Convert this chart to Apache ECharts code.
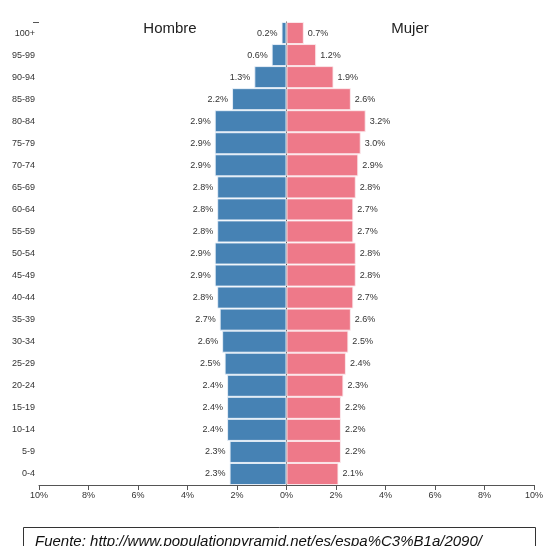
<!DOCTYPE html>
<html>
<head>
<meta charset="utf-8">
<script src="https://cdn.jsdelivr.net/npm/echarts@6/dist/echarts.min.js"></script>
<style>
  html, body { margin: 0; padding: 0; background: #fff; }
  #chart { width: 546px; height: 546px; }
</style>
</head>
<body>
<div id="chart"></div>
<script>
  // age groups, bottom to top
  const ageGroups = ['0-4', '5-9', '10-14', '15-19', '20-24', '25-29', '30-34', '35-39', '40-44', '45-49',
    '50-54', '55-59', '60-64', '65-69', '70-74', '75-79', '80-84', '85-89', '90-94', '95-99', '100+']
  const hombre = [2.3, 2.3, 2.4, 2.4, 2.4, 2.5, 2.6, 2.7, 2.8, 2.9, 2.9, 2.8, 2.8, 2.8, 2.9, 2.9, 2.9, 2.2, 1.3, 0.6, 0.2]
  const mujer = [2.1, 2.2, 2.2, 2.2, 2.3, 2.4, 2.5, 2.6, 2.7, 2.8, 2.8, 2.7, 2.7, 2.8, 2.9, 3.0, 3.2, 2.6, 1.9, 1.2, 0.7]
  const fuente = 'Fuente: http://www.populationpyramid.net/es/espa%C3%B1a/2090/'

  const font = 'Liberation Sans, Arial, sans-serif'
  const chart = echarts.init(document.getElementById('chart'))

  const pct = v => Math.abs(v).toFixed(1) + '%'

  chart.setOption({
    animation: false,
    grid: { left: 39, right: 11, top: 22, bottom: 61, containLabel: false },
    xAxis: {
      type: 'value',
      min: -10,
      max: 10,
      interval: 2,
      axisLine: { show: true, lineStyle: { color: '#555', width: 1 } },
      axisTick: { show: true, length: 5, lineStyle: { color: '#555' } },
      splitLine: { show: false },
      axisLabel: {
        formatter: v => Math.abs(v) + '%',
        fontFamily: font,
        fontSize: 9,
        color: '#333',
        margin: 6
      }
    },
    yAxis: {
      type: 'category',
      data: ageGroups,
      axisLine: { show: true, lineStyle: { color: '#555', width: 1 } },
      axisTick: { show: false },
      axisLabel: { fontFamily: font, fontSize: 9, color: '#333', margin: 4 }
    },
    series: [
      {
        name: 'Hombre',
        type: 'bar',
        stack: 'pop',
        barCategoryGap: '0%',
        data: hombre.map(v => -v),
        itemStyle: { color: '#4682b4', borderColor: 'rgba(235,242,250,0.9)', borderWidth: 1 },
        label: {
          show: true,
          position: 'left',
          distance: 4,
          formatter: p => pct(p.value),
          fontFamily: font,
          fontSize: 9,
          color: '#333'
        }
      },
      {
        name: 'Mujer',
        type: 'bar',
        stack: 'pop',
        barCategoryGap: '0%',
        data: mujer,
        itemStyle: { color: '#ee7989', borderColor: 'rgba(252,235,238,0.9)', borderWidth: 1 },
        label: {
          show: true,
          position: 'right',
          distance: 4,
          formatter: p => pct(p.value),
          fontFamily: font,
          fontSize: 9,
          color: '#333'
        }
      }
    ],
    graphic: [
      // outer tick at the top of the y axis
      { type: 'line', shape: { x1: 33, y1: 22.5, x2: 39, y2: 22.5 }, style: { stroke: '#555', lineWidth: 1 } },
      {
        type: 'text', x: 170, y: 29,
        style: { text: 'Hombre', font: '15px ' + font, fill: '#222', textAlign: 'center', textVerticalAlign: 'middle' }
      },
      {
        type: 'text', x: 410, y: 29,
        style: { text: 'Mujer', font: '15px ' + font, fill: '#222', textAlign: 'center', textVerticalAlign: 'middle' }
      },
      {
        type: 'rect', shape: { x: 23.5, y: 527.5, width: 512, height: 40 },
        style: { fill: 'none', stroke: '#333', lineWidth: 1 }
      },
      {
        type: 'text', x: 35, y: 534,
        style: { text: fuente, font: 'italic 15px ' + font, fill: '#111', textAlign: 'left', textVerticalAlign: 'top' }
      }
    ]
  })
</script>
</body>
</html>
